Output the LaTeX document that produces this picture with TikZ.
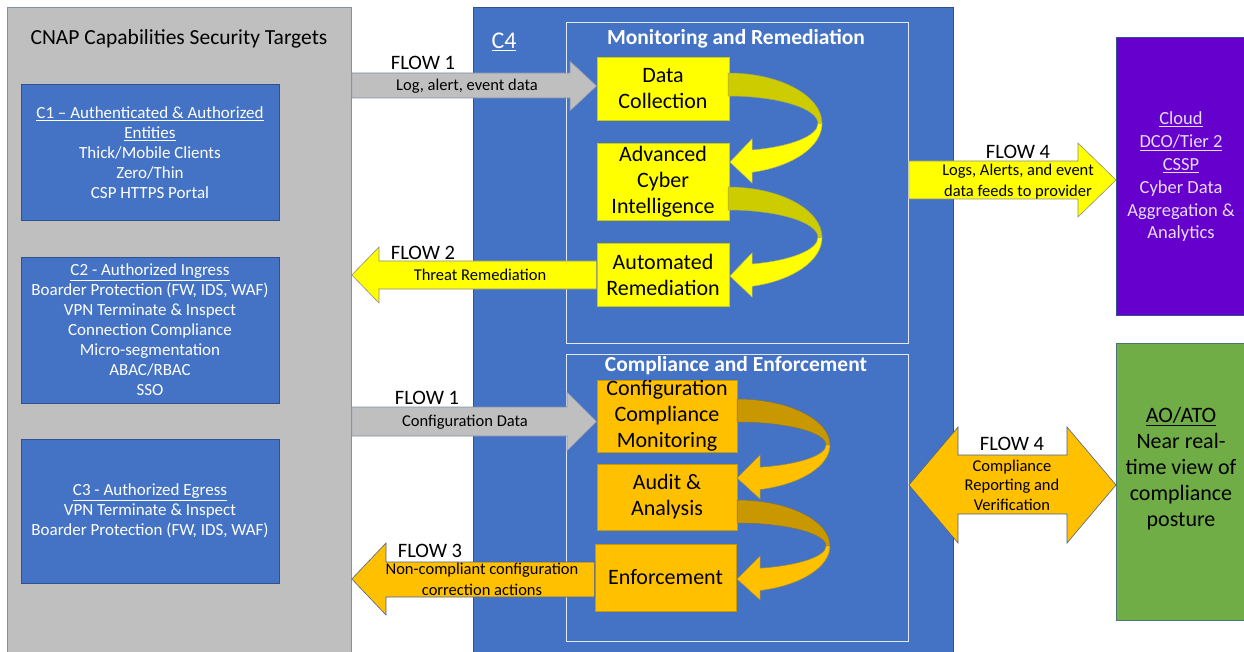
\documentclass[tikz,border=0pt]{standalone}
\usepackage{fontspec}
\setmainfont{Carlito}
\definecolor{cgray}{HTML}{BFBFBF}
\definecolor{cgrayD}{HTML}{7F8FB0}
\definecolor{cblue}{HTML}{4472C4}
\definecolor{cblueD}{HTML}{2F528F}
\definecolor{cyel}{HTML}{FFFF00}
\definecolor{cyelD}{HTML}{CCCC00}
\definecolor{cora}{HTML}{FFC000}
\definecolor{coraD}{HTML}{C99700}
\definecolor{cpur}{HTML}{6600CC}
\definecolor{cpurT}{HTML}{E6DCF7}
\definecolor{cgrn}{HTML}{70AD47}
\definecolor{cedge}{HTML}{8C8C8C}
\newcommand\myfs[2]{\fontsize{#1}{#2}\selectfont}
\tikzset{
  panel/.style={fill=cgray, draw=cgrayD, line width=0.8},
  bluepanel/.style={fill=cblue, draw=cblueD, line width=0.8},
  cbox/.style={fill=cblue, draw=cblueD, line width=0.8, text=white, align=center, inner sep=0, font=\myfs{17}{20}},
  frame/.style={draw=white!85!cblue, line width=0.9},
  ybox/.style={fill=cyel, draw=cyelD, line width=0.6, inner sep=0, align=center, font=\myfs{22}{26}},
  obox/.style={fill=cora, draw=coraD, line width=0.6, inner sep=0, align=center, font=\myfs{22}{26}},
  garrow/.style={fill=cgray, draw=cgrayD, line width=0.6},
  yarrow/.style={fill=cyel, draw=cedge, line width=0.6},
  oarrow/.style={fill=cora, draw=cblueD!70!cedge, line width=0.6},
  flowlbl/.style={font=\myfs{20.5}{24}, inner sep=0},
  flowtxt/.style={font=\myfs{16.5}{21}, inner sep=0, align=center},
  head/.style={font=\bfseries\myfs{21.5}{24}, text=white, inner sep=0},
}
\begin{document}
\begin{tikzpicture}[x=1pt,y=-1pt]
\useasboundingbox (0,0) rectangle (1244,652);
\clip (0,0) rectangle (1244,652);
\fill[white] (0,0) rectangle (1244,652);

% left gray panel
\node[panel, minimum width=344, minimum height=660, anchor=north west, inner sep=0] (gp) at (7,7) {};
\node[font=\myfs{21.5}{25}, inner sep=0] (title) at (179,39) {CNAP Capabilities Security Targets};
\node[cbox, minimum width=258, minimum height=136] (c1) at (150,152.5)
  {\underline{C1 -- Authenticated \& Authorized}\\ \underline{Entities}\\ Thick/Mobile Clients\\ Zero/Thin\\ CSP HTTPS Portal};
\node[cbox, minimum width=258, minimum height=146] (c2) at (150,330)
  {\underline{C2 - Authorized Ingress}\\ Boarder Protection (FW, IDS, WAF)\\ VPN Terminate \& Inspect\\ Connection Compliance\\ Micro-segmentation\\ ABAC/RBAC\\ SSO};
\node[cbox, minimum width=258, minimum height=144] (c3) at (150,511)
  {\underline{C3 - Authorized Egress}\\ VPN Terminate \& Inspect\\ Boarder Protection (FW, IDS, WAF)};

% C4 blue panel
\node[bluepanel, minimum width=480, minimum height=660, anchor=north west, inner sep=0] (c4) at (473,7) {};
\node[font=\myfs{24}{28}, text=white, inner sep=0] (c4l) at (504,42) {\underline{C4}};
\node[frame, minimum width=342, minimum height=321, anchor=north west, inner sep=0] (mon) at (566,22) {};
\node[frame, minimum width=342, minimum height=287, anchor=north west, inner sep=0] (comp) at (566,354) {};
\node[head] (monh) at (736,39) {Monitoring and Remediation};
\node[head] (comph) at (736,366) {Compliance and Enforcement};

% right boxes
\node[fill=cpur, draw=cblueD, line width=0.8, minimum width=140, minimum height=278, anchor=north west, inner sep=0] (cloud) at (1116,37) {};
\node[text=cpurT, align=center, font=\myfs{18.5}{22.8}, inner sep=0] (cloudt) at (1181,177)
  {\underline{Cloud}\\ \underline{DCO/Tier\ 2}\\ \underline{CSSP}\\ Cyber Data\\ Aggregation \&\\ Analytics};
\node[fill=cgrn, draw=cblueD!60!cgrn, line width=0.8, minimum width=140, minimum height=277, anchor=north west, inner sep=0] (ao) at (1116,343) {};
\node[align=center, font=\myfs{22}{26}, inner sep=0] (aot) at (1181,469)
  {\underline{AO/ATO}\\ Near real-\\ time view of\\ compliance\\ posture};

% coloured process boxes
\node[ybox, minimum width=132, minimum height=63] (dc) at (663,88.5) {Data\\Collection};
\node[ybox, minimum width=132, minimum height=77] (aci) at (663,181.5) {Advanced\\Cyber\\Intelligence};
\node[ybox, minimum width=132, minimum height=63] (ar) at (663,274.5) {Automated\\Remediation};
\node[obox, minimum width=140, minimum height=72] (ccm) at (667,416) {Configuration\\Compliance\\Monitoring};
\node[obox, minimum width=140, minimum height=66] (aa) at (667,497) {Audit \&\\Analysis};
\node[obox, minimum width=141, minimum height=67] (enf) at (665.5,577.5) {Enforcement};

% flow block arrows
\draw[garrow] (gp.east |- 0,73) -- (570,73) -- (570,61) -- (dc.west |- 0,86) -- (570,111) -- (570,98) -- (gp.east |- 0,98) -- cycle;
\draw[yarrow] (ar.west |- 0,261) -- (379,261) -- (379,247) -- (gp.east |- 0,275) -- (379,303) -- (379,289) -- (ar.west |- 0,289) -- cycle;
\draw[garrow] (gp.east |- 0,407) -- (567,407) -- (567,392) -- (ccm.west |- 0,421.5) -- (567,451) -- (567,436) -- (gp.east |- 0,436) -- cycle;
\draw[oarrow] (enf.west |- 0,562) -- (386,562) -- (386,543) -- (gp.east |- 0,579) -- (386,615) -- (386,597) -- (enf.west |- 0,597) -- cycle;
\draw[yarrow] (mon.east |- 0,161) -- (1078,161) -- (1078,143) -- (cloud.west |- 0,180) -- (1078,217) -- (1078,199) -- (mon.east |- 0,199) -- cycle;
\draw[oarrow] (comp.east |- 0,485) -- (958,427) -- (958,455) -- (1067,455) -- (1067,427) -- (ao.west |- 0,485) -- (1067,543) -- (1067,514) -- (958,514) -- (958,543) -- cycle;

% curved arrows (yellow)
\foreach \cy in {123.5,237.5}{
\begin{scope}[shift={(728,\cy)}]
  \draw[fill=cyelD, draw=cedge!60!cyelD, line width=0.5] (0,-50.5) arc[start angle=-90, end angle=0, x radius=94, y radius=50.5]
     -- (90,0) arc[start angle=0, end angle=-90, x radius=90, y radius=27.5] -- cycle;
  \draw[fill=cyel, draw=cedge!60!cyel, line width=0.5] (94,0) arc[start angle=0, end angle=75.2, x radius=94, y radius=50.5]
     -- (24,59.5) -- (2,38.5) -- (24,15.5) -- (24,26.5) arc[start angle=74.5, end angle=0, x radius=90, y radius=27.5] -- cycle;
\end{scope}}
% curved arrows (orange)
\foreach \cy in {445,546}{
\begin{scope}[shift={(737,\cy)}]
  \draw[fill=coraD, draw=cblueD!50!coraD, line width=0.5] (0,-46) arc[start angle=-90, end angle=0, x radius=93, y radius=46]
     -- (89,0) arc[start angle=0, end angle=-90, x radius=89, y radius=23] -- cycle;
  \draw[fill=cora, draw=cblueD!50!cora, line width=0.5] (93,0) arc[start angle=0, end angle=75.68, x radius=93, y radius=46]
     -- (23,54) -- (0,33) -- (23,10) -- (23,22.2) arc[start angle=75.02, end angle=0, x radius=89, y radius=23] -- cycle;
\end{scope}}

% flow labels
\node[flowlbl] (f1a) at (423,62.5) {FLOW 1};
\node[flowtxt] (f1at) at (467,86) {Log, alert, event data};
\node[flowlbl] (f2) at (423,252.5) {FLOW 2};
\node[flowtxt] (f2t) at (480,274.5) {Threat Remediation};
\node[flowlbl] (f1b) at (427,397.5) {FLOW 1};
\node[flowtxt] (f1bt) at (465,422) {Configuration Data};
\node[flowlbl] (f3) at (430,550.5) {FLOW 3};
\node[flowtxt] (f3t) at (482,579) {Non-compliant configuration\\ correction actions};
\node[flowlbl] (f4a) at (1018,151.5) {FLOW 4};
\node[flowtxt] (f4at) at (1018,181.5) {Logs, Alerts, and event\\ data feeds to provider};
\node[flowlbl] (f4b) at (1012,444) {FLOW 4};
\node[flowtxt, font=\myfs{16.5}{19.5}] (f4bt) at (1012,485) {Compliance\\ Reporting and\\ Verification};
\end{tikzpicture}
\end{document}
